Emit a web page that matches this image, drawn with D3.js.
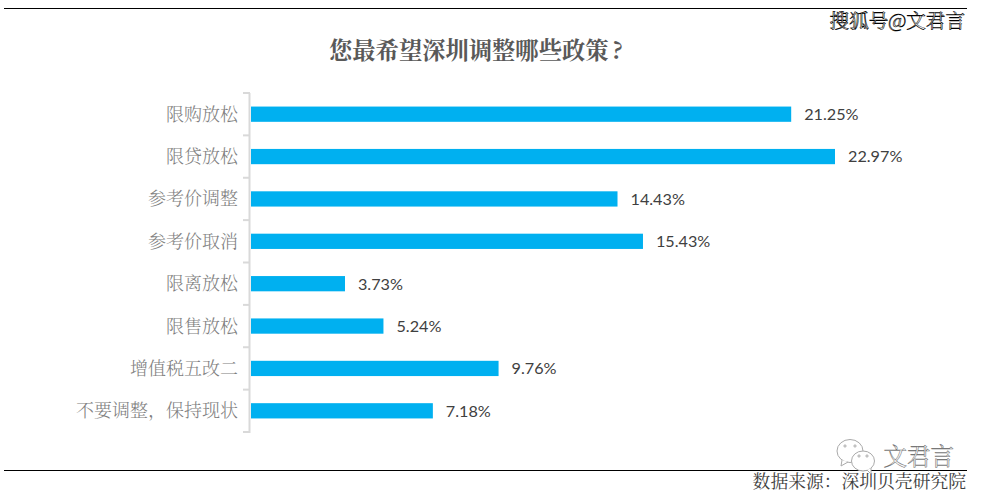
<!DOCTYPE html>
<html>
<head>
<meta charset="utf-8">
<script src="https://cdnjs.cloudflare.com/ajax/libs/d3/7.8.5/d3.min.js"></script>
<style>
  html, body { margin: 0; padding: 0; background: #fff; }
  svg { display: block; }
  text { font-family: "Noto Serif CJK SC", "Noto Sans CJK SC", serif; }
  .y-label { font-size: 18px; fill: #7f7f7f; font-weight: 300; }
  .value { font-family: Lato, "Noto Sans", sans-serif; font-size: 16.2px; fill: #404040; }
</style>
</head>
<body>
<svg id="chart" width="986" height="500"></svg>
<script>
var categories = ["限购放松", "限贷放松", "参考价调整", "参考价取消", "限离放松", "限售放松", "增值税五改二", "不要调整，保持现状"];
var shares = [21.25, 22.97, 14.43, 15.43, 3.73, 5.24, 9.76, 7.18];
var valueLabels = ["21.25%", "22.97%", "14.43%", "15.43%", "3.73%", "5.24%", "9.76%", "7.18%"];

var svg = d3.select("#chart");
var left = 250, top_ = 93, bottom = 432;

var x = d3.scaleLinear().domain([0, 22.97]).range([left, 835]);
var y = d3.scaleBand().domain(categories).range([top_, bottom]).paddingInner(0.64).paddingOuter(0.32);

// frame lines top and bottom
svg.append("line").attr("x1", 4).attr("x2", 967).attr("y1", 8.5).attr("y2", 8.5).attr("stroke", "#000");
svg.append("line").attr("x1", 4).attr("x2", 967).attr("y1", 470.5).attr("y2", 470.5).attr("stroke", "#000");

svg.append("text").attr("x", 329).attr("y", 59)
    .style("font-size", "23.3px").style("font-weight", "700").style("fill", "#595959")
    .text("您最希望深圳调整哪些政策");
svg.append("text").attr("x", 612).attr("y", 59)
    .style("font-size", "23.3px").style("font-weight", "700").style("fill", "#595959")
    .text("?");

// bars
svg.selectAll("rect.bar").data(categories).enter().append("rect")
    .attr("class", "bar")
    .attr("x", left + 1)
    .attr("y", function (d) { return y(d); })
    .attr("width", function (d, i) { return x(shares[i]) - left - 1; })
    .attr("height", y.bandwidth())
    .attr("fill", "#00b0f0");

// category axis, ticks sit between the bands
var step = (bottom - top_) / categories.length;
var axis = svg.append("g").attr("stroke", "#d9d9d9").attr("stroke-width", 2).attr("fill", "none");
axis.append("line").attr("x1", left - 0.5).attr("x2", left - 0.5).attr("y1", top_).attr("y2", bottom + 1);
axis.selectAll("line.tick").data(d3.range(categories.length + 1)).enter().append("line")
    .attr("class", "tick")
    .attr("x1", left - 7).attr("x2", left)
    .attr("y1", function (d) { return top_ + d * step; })
    .attr("y2", function (d) { return top_ + d * step; });

svg.selectAll("text.y-label").data(categories).enter().append("text")
    .attr("class", "y-label")
    .attr("x", 238)
    .attr("y", function (d) { return y(d) + y.bandwidth() / 2; })
    .attr("dy", "0.36em")
    .attr("text-anchor", "end")
    .text(function (d) { return d; });

svg.selectAll("text.value").data(valueLabels).enter().append("text")
    .attr("class", "value")
    .attr("x", function (d, i) { return x(shares[i]) + 13; })
    .attr("y", function (d, i) { return y(categories[i]) + y.bandwidth() / 2; })
    .attr("dy", "0.36em")
    .text(function (d) { return d; });

svg.append("text").attr("x", 966).attr("y", 488)
    .attr("text-anchor", "end")
    .style("font-size", "17.8px").style("fill", "#404040")
    .text("数据来源：深圳贝壳研究院");

// watermarks
svg.append("text").attr("x", 965).attr("y", 28)
    .attr("text-anchor", "end")
    .style("font-size", "19.6px").style("fill", "#fff")
    .style("stroke", "#000").style("stroke-width", 0.6)
    .text("搜狐号@文君言");

svg.append("text").attr("x", 954).attr("y", 465)
    .attr("text-anchor", "end")
    .style("font-size", "23.5px").style("fill", "#fff")
    .style("stroke", "#777").style("stroke-width", 0.6)
    .text("文君言");

var wechat = svg.append("g").attr("fill", "#fff").attr("stroke", "#aaa").attr("stroke-width", 1);
wechat.append("ellipse").attr("cx", 850).attr("cy", 451).attr("rx", 13).attr("ry", 11.5);
wechat.append("path").attr("d", "M842 460 L841 466 L848 462");
wechat.append("ellipse").attr("cx", 863).attr("cy", 461).attr("rx", 11.5).attr("ry", 10);
wechat.append("path").attr("d", "M867 470 L871 474 L871 468");
wechat.selectAll("circle").data([[845, 446], [855, 446], [859, 456], [867, 456]]).enter().append("circle")
    .attr("cx", function (d) { return d[0]; })
    .attr("cy", function (d) { return d[1]; })
    .attr("r", 1.1);
</script>
</body>
</html>
